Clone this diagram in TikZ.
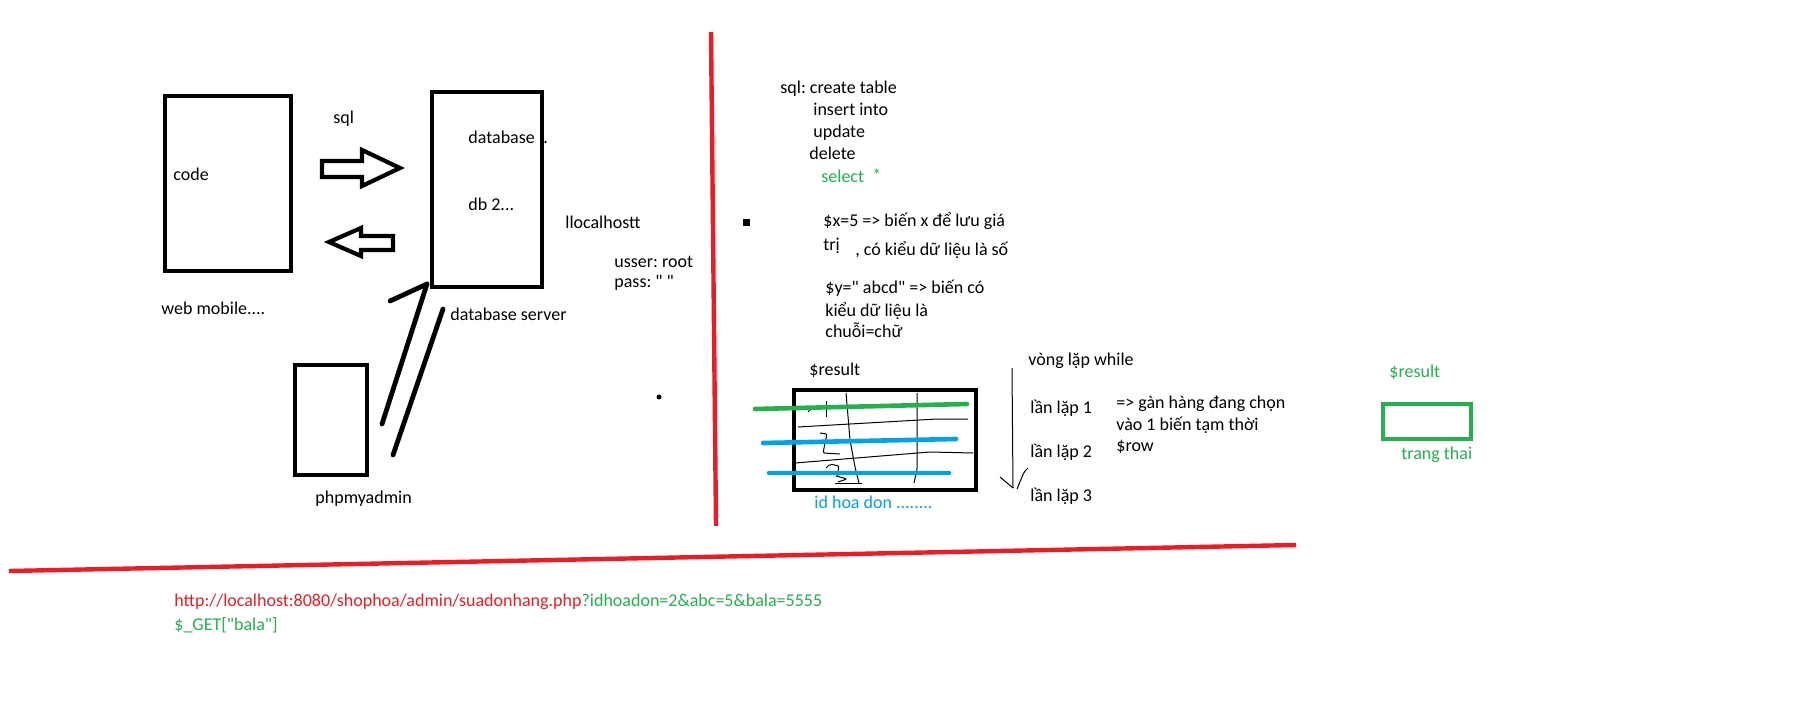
\documentclass[tikz,border=0pt]{standalone}
\usepackage{fontspec}
\setmainfont{Carlito}
\usepackage{xcolor}
\usetikzlibrary{positioning}
\definecolor{paintred}{HTML}{ED1C24}
\definecolor{paintgreen}{HTML}{22B14C}
\definecolor{paintblue}{HTML}{00A2E8}
\frenchspacing

\begin{document}
\begin{tikzpicture}[
  x=0.5pt, y=-0.5pt,
  font=\fontsize{9}{11}\selectfont,
  boxnode/.style={rectangle, draw=black, line width=2.2pt, inner sep=0pt},
  greenbox/.style={rectangle, draw=paintgreen, line width=2.3pt, inner sep=0pt},
  txt/.style={anchor=base west, inner sep=0pt},
  blockarrow/.style={draw=black, line width=2.1pt, line join=miter},
  penline/.style={line width=2.4pt, line cap=round},
  redline/.style={draw=paintred, line width=2.2pt},
  marker/.style={line width=2.3pt, line cap=round},
  pencil/.style={line width=0.5pt, rounded corners=1pt}
]
\useasboundingbox (0,0) rectangle (1799,701);

%Nodes
\node[boxnode, minimum width=63pt, minimum height=87.5pt] (code) at (228,183.5) {};
\node[txt] (codelbl) at (173,180) {code};
\node[txt] (web) at (161,314) {web mobile....};
\node[txt] (sql) at (333,124) {sql};

\node[boxnode, minimum width=55pt, minimum height=97.5pt] (dbsrv) at (487,189.5) {};
\node[txt] (db1) at (468,143) {database};
\node[txt] (db1dot) at (543,143) {.};
\node[txt] (db2) at (468,210) {db 2...};
\node[txt] (dbsrvlbl) at (450,320) {database server};

\node[txt] (host) at (565,228) {llocalhostt};
\node[txt] (usser) at (614,267) {usser: root};
\node[txt] (pass) at (614,287) {pass: \textquotedbl{} \textquotedbl};
\node[circle, fill, minimum size=2.5pt, inner sep=0pt] (dot) at (659,397) {};

\node[boxnode, minimum width=36pt, minimum height=55pt] (pma) at (331,420) {};
\node[txt] (pmalbl) at (315,503) {phpmyadmin};

% sql commands
\node[txt] (sqlcmd) at (780,94) {sql: create table};
\node[txt] (ins) at (813,116) {insert into};
\node[txt] (upd) at (813,138) {update};
\node[txt] (del) at (809,160) {delete};
\node[txt, text=paintgreen] (sel) at (821,183) {select};
\node[txt, text=paintgreen] (star) at (872,182) {*};

% variables
\node[fill, minimum size=3.5pt, inner sep=0pt] (bullet) at (746.5,222.5) {};
\node[txt] (xvar) at (823,227) {\$x=5 => biến x để lưu giá};
\node[txt] (tri) at (823,250) {trị};
\node[txt] (sokind) at (855,255) {, có kiểu dữ liệu là số};
\node[txt] (yvar) at (825,293) {\$y=\textquotedbl{} abcd\textquotedbl{} => biến có};
\node[txt] (ykind) at (825,316) {kiểu dữ liệu là};
\node[txt] (ystr) at (825,337) {chuỗi=chữ};

% result table
\node[txt] (reslbl) at (809,375) {\$result};
\node[boxnode, line width=2pt, minimum width=91pt, minimum height=50pt] (restab) at (885,440) {};
\node[txt, text=paintblue] (idhd) at (814,508) {id hoa don ........};

% while loop
\node[txt] (loop) at (1028,365) {vòng lặp while};
\node[txt] (it1) at (1030,413) {lần lặp 1};
\node[txt] (it2) at (1030,457) {lần lặp 2};
\node[txt] (it3) at (1030,501) {lần lặp 3};
\node[txt] (row1) at (1116,408) {=> gàn hàng đang chọn};
\node[txt] (row2) at (1116,430) {vào 1 biến tạm thời};
\node[txt] (row3) at (1116,451) {\$row};

% green result
\node[txt, text=paintgreen] (gres) at (1389,377) {\$result};
\node[greenbox, minimum width=44pt, minimum height=17.5pt] (gbox) at (1427,421.5) {};
\node[txt, text=paintgreen] (state) at (1401,459) {trang thai};

% url
\node[txt] (url) at (174,606) {\textcolor{paintred}{http://localhost:8080/shophoa/admin/suadonhang.php}\textcolor{paintgreen}{?idhoadon=2\&abc=5\&bala=5555}};
\node[txt, text=paintgreen] (get) at (174,630) {\$\_GET[\textquotedbl bala\textquotedbl]};

%Arrows
\draw[blockarrow] (322,161) -- (362,161) -- (362,150) -- (400,168) -- (362,186) -- (362,177) -- (322,177) -- cycle;
\draw[blockarrow] (393,236) -- (361,236) -- (361,228) -- (329,242) -- (361,256) -- (361,250) -- (393,250) -- cycle;

\coordinate (pmaA) at (382,424);
\coordinate (pmaB) at (393,455);
\coordinate (hook) at (390,301);
\coordinate (dbfoot) at (427,284);
\coordinate (dbtail) at (443,309);
\draw[penline] (pmaA) -- (dbfoot);
\draw[penline] (hook) -- (dbfoot);
\draw[penline] (pmaB) -- (dbtail);

\coordinate (looptop) at (1012,368);
\coordinate (loopend) at (1013,488);
\draw[pencil] (looptop) -- (loopend);
\draw[pencil] (1000,477) -- (loopend);
\draw[pencil] (1028,468) -- (1024,472) -- (1017,489);

% table scribbles
\draw[pencil] (846,393) -- (850,440) -- (855,467) -- (859,483);
\draw[pencil] (917,393) -- (917,470) -- (914,483);
\draw[pencil] (798,427) -- (937,419) -- (968,419);
\draw[pencil] (795,463) -- (930,452) -- (973,453);
\draw[pencil] (826,401) -- (826,417);
\draw[pencil] (808,412) -- (811,409);
\draw[pencil] (820,433) -- (827,434) -- (823,453) -- (840,454);
\draw[pencil] (826,468) -- (830,464) -- (839,466) -- (837,476);
\draw[pencil] (836,476) -- (847,479) -- (838,482);
\draw[pencil] (835,483) -- (862,483);

\draw[marker, draw=paintgreen] (755,409) -- (967,404);
\draw[marker, draw=paintblue] (763,443) -- (956,439);
\draw[marker, draw=paintblue] (769,473) -- (949,473);

% red separators
\draw[redline] (711,32) -- (716,526);
\draw[redline] (9,571) -- (1296,545);
\end{tikzpicture}
\end{document}
